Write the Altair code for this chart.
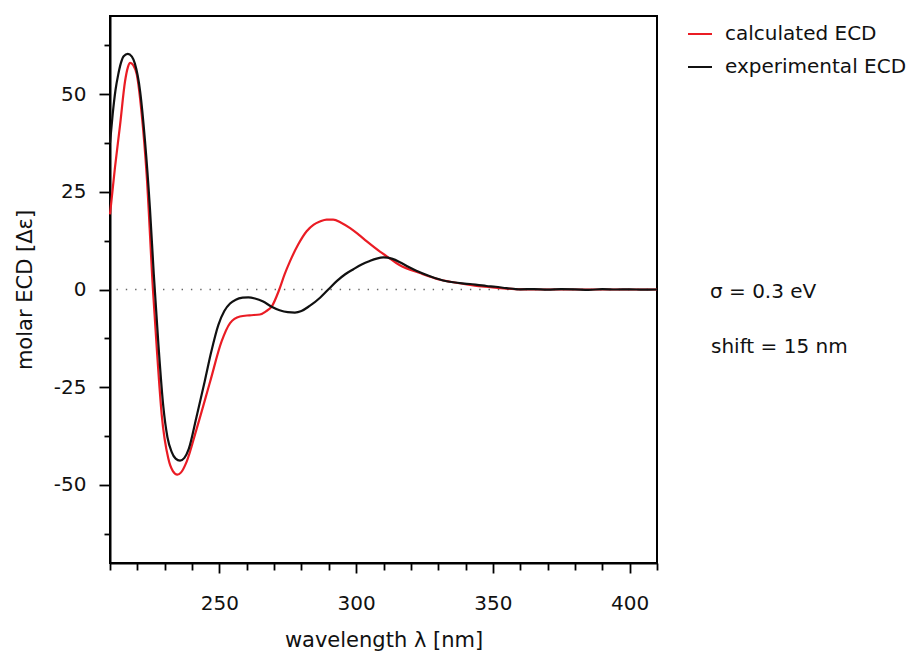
import altair as alt
import pandas as pd

# ---- data ----
lam_calc = [210, 211.8, 213.7, 215.5, 216.5, 217.4, 218.5, 219.8, 221.6, 223.4, 225.7,
            227.1, 228.9, 231.3, 233, 234.6, 236, 238, 241.7, 246.6, 250.8, 253.9, 257.5,
            261, 264.8, 267, 269.1, 271.9, 273.8, 275.8, 278.8, 281.9, 284.5, 286.8, 289.2,
            291.6, 294.5, 297.8, 300.8, 303.9, 308.7, 311.2, 316, 323.3, 330.7, 336, 341.6,
            347, 353.8, 360, 370, 380, 390, 400, 410]
ecd_calc = [19.2, 31.1, 42.2, 53.3, 56.8, 58, 57.4, 55, 44.8, 29.4, 0,
            -15, -32, -43.2, -46.5, -47.4, -46.8, -44.1, -35.6, -23.6, -13.3, -8.6, -6.9,
            -6.6, -6.4, -5.6, -4.4, 0, 3.8, 7.2, 11.5, 14.9, 16.6, 17.4, 17.9,
            17.9, 17.1, 15.7, 14.1, 12.3, 9.7, 8.5, 6.2, 4.2, 2.5, 1.8, 1.2,
            0.7, 0.3, 0.05, 0, 0, 0, 0, 0]

lam_exp = [210, 211, 212, 213, 214, 215, 216.5, 218, 219.1, 221, 222.8, 224.6, 226,
           227.7, 229.5, 231, 232.5, 234, 235.6, 237.2, 238.8, 241.5, 244.6, 247, 249.6,
           251.8, 253.9, 256, 258.5, 260.6, 263, 266, 269.1, 272, 275, 277.6, 280, 283,
           286.8, 289.8, 293, 296, 299, 302, 305, 307.5, 310, 313, 316, 318.5, 322, 327,
           333.1, 341.6, 347.7, 351, 355, 360, 365, 370, 375, 380, 385, 390, 395, 400,
           405, 410]
ecd_exp = [37.5, 45, 51, 55, 58, 59.7, 60.3, 59.6, 57.8, 50.8, 38, 20.8, 4,
           -14, -30, -37.8, -41.5, -43.3, -43.8, -43.1, -40.8, -33, -23.6, -16, -9.1,
           -5.5, -3.6, -2.6, -2.1, -2.0, -2.3, -3.1, -4.4, -5.3, -5.8, -5.9, -5.5, -4.2,
           -2.1, 0, 2.2, 3.9, 5.2, 6.4, 7.3, 7.9, 8.2, 7.9, 7.0, 6.0, 4.8, 3.4,
           2.1, 1.4, 0.9, 0.7, 0.35, 0.05, 0.1, -0.05, 0.1, 0.05, -0.1, 0.1, 0, 0.05,
           -0.05, 0]

series_names = ["calculated ECD", "experimental ECD"]
series_colors = ["#ea1c24", "#111111"]
x_ticks = list(range(210, 411, 10))
y_ticks = [-62.5, -50, -37.5, -25, -12.5, 0, 12.5, 25, 37.5, 50, 62.5]
annotations = ["σ = 0.3 eV", "shift = 15 nm"]

df = pd.concat([
    pd.DataFrame({"wavelength": lam_calc, "ecd": ecd_calc, "series": series_names[0]}),
    pd.DataFrame({"wavelength": lam_exp, "ecd": ecd_exp, "series": series_names[1]}),
])

FONT = "DejaVu Sans"

x_enc = alt.X(
    "wavelength:Q",
    scale=alt.Scale(domain=[210, 410], nice=False, zero=False),
    axis=alt.Axis(
        title="wavelength λ [nm]",
        values=x_ticks,
        labelExpr="datum.value % 50 === 0 ? '' + datum.value : ''",
        tickSize={"condition": {"test": "datum.value % 50 === 0", "value": 10}, "value": 7},
        labelBaseline="alphabetic",
        labelPadding=36,
        titleX=273.5, titleY=83, titleBaseline="alphabetic", titleAlign="center",
        grid=False,
    ),
)
y_enc = alt.Y(
    "ecd:Q",
    scale=alt.Scale(domain=[-70, 70], nice=False, zero=False),
    axis=alt.Axis(
        title="molar ECD [Δε]",
        values=y_ticks,
        labelExpr="datum.value % 25 === 0 ? '' + datum.value : ''",
        tickSize={"condition": {"test": "datum.value % 25 === 0", "value": 11}, "value": 6},
        labelBaseline="middle",
        labelPadding=13,
        titleX=-79, titleY=273.5, titleBaseline="alphabetic", titleAlign="center", titleAngle=-90,
        grid=False,
    ),
)

lines = alt.Chart(df).mark_line(interpolate="monotone", strokeWidth=2.2).encode(
    x=x_enc,
    y=y_enc,
    color=alt.Color(
        "series:N",
        scale=alt.Scale(domain=series_names, range=series_colors),
        legend=alt.Legend(
            title=None, orient="none", legendX=577, legendY=5, padding=0,
            symbolType="stroke", symbolSize=576, symbolStrokeWidth=2,
            labelFont=FONT, labelFontSize=20, labelColor="#111", labelOffset=12,
            labelLimit=0, rowPadding=10,
        ),
    ),
    order=alt.Order("wavelength:Q"),
)

zero_line = alt.Chart(pd.DataFrame({"ecd": [0]})).mark_rule(
    color="#666", strokeWidth=1.4, strokeDash=[1.4, 7.9], strokeDashOffset=-9
).encode(y="ecd:Q")

ann1 = alt.Chart(pd.DataFrame({"t": [annotations[0]]})).mark_text(
    align="left", baseline="middle", font=FONT, fontSize=20, color="#111", clip=False
).encode(x=alt.value(600), y=alt.value(276), text="t:N")
ann2 = alt.Chart(pd.DataFrame({"t": [annotations[1]]})).mark_text(
    align="left", baseline="middle", font=FONT, fontSize=20, color="#111", clip=False
).encode(x=alt.value(601), y=alt.value(331), text="t:N")

chart = alt.layer(zero_line, lines, ann1, ann2).properties(
    width=547, height=547,
    padding={"left": 110, "top": 16, "right": 263, "bottom": 94},
    autosize=alt.AutoSizeParams(type="none"),
    background="white",
).configure_view(
    stroke="#000", strokeWidth=2
).configure_axis(
    domainColor="#000", domainWidth=2, tickColor="#000", tickWidth=1.8,
    labelFont=FONT, labelFontSize=20, labelColor="#111",
    titleFont=FONT, titleFontSize=21, titleColor="#111", titleFontWeight="normal",
)

chart.save("out.html", embed_options={"renderer": "svg", "actions": False})
